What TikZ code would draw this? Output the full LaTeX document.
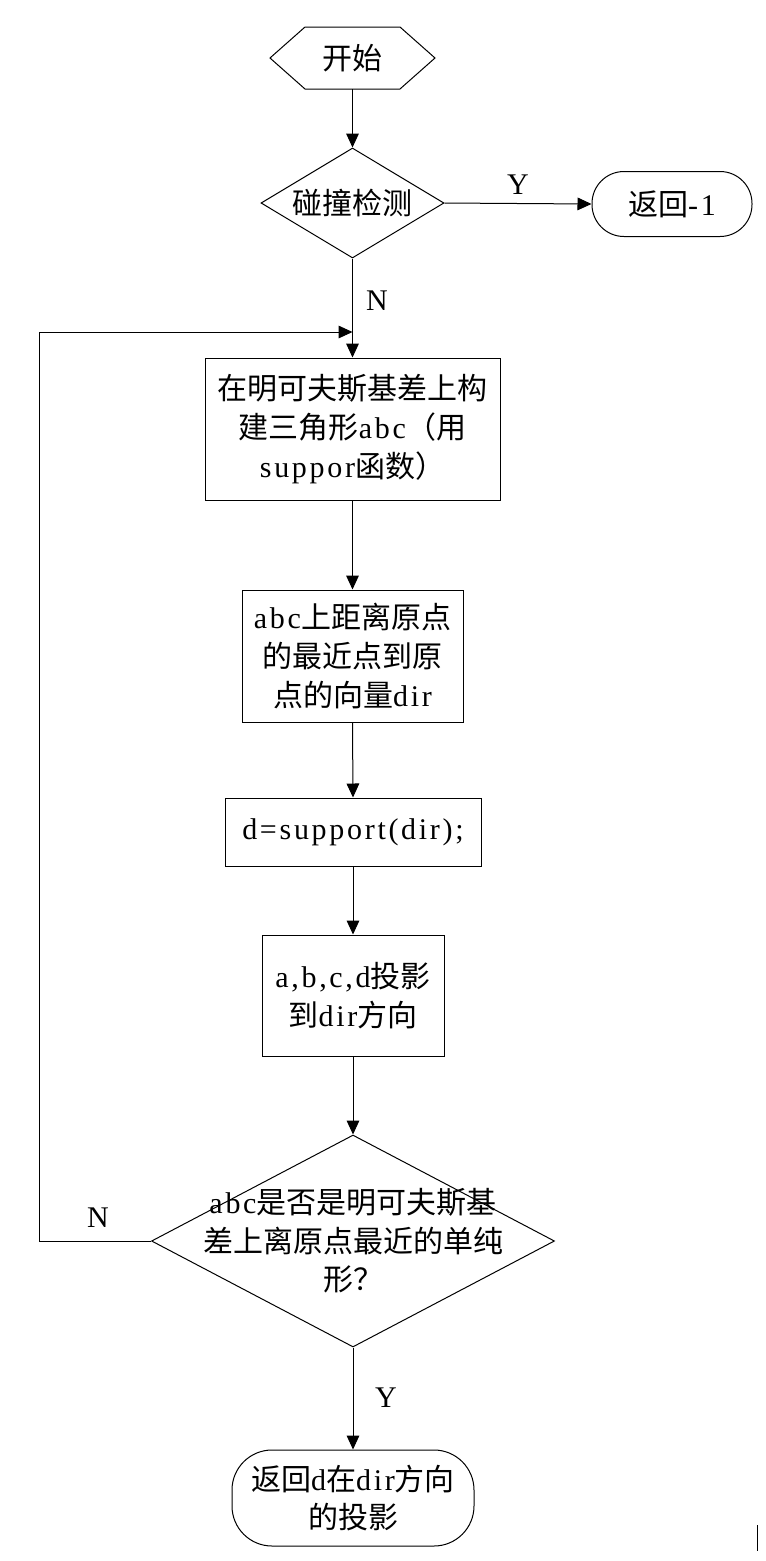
\documentclass[tikz,border=0pt]{standalone}
\usepackage{fontspec}
\setmainfont{Liberation Serif}
\newfontfamily\cjk{Noto Sans CJK SC}
\newfontfamily\latm[LetterSpace=9]{Liberation Serif}
\newcommand\lm[1]{{\latm #1}}
\usetikzlibrary{shapes.geometric,arrows.meta}
\tikzset{
  txt/.style={font=\cjk\fontsize{22.5}{29}\selectfont},
  lbl/.style={font=\rmfamily\fontsize{22.5}{29}\selectfont, inner sep=0pt},
  ln/.style={line width=0.75pt},
  box/.style={draw, ln, rectangle, inner sep=0pt, align=center, txt},
  dia/.style={draw, ln, diamond, inner sep=0pt},
  stad/.style={draw, ln, rectangle, inner sep=0pt, align=center, txt},
  arr/.style={ln, -{Triangle[length=10.5pt,width=9.5pt]}},
}
\begin{document}
\begin{tikzpicture}[x=0.75pt,y=-0.75pt]
\useasboundingbox (0,0) rectangle (766,1561);
\fill[white] (0,0) rectangle (766,1561);

% start hexagon
\draw[ln] (270,58) -- (305,27) -- (400,27) -- (435,58) -- (400,89) -- (305,89) -- cycle;
\node[txt, minimum width=123.75pt, minimum height=46.5pt, inner sep=0pt] (start) at (352.5,58) {开始};

% collision check
\node[dia, minimum width=137.25pt, minimum height=82.5pt] (d1) at (352.5,203) {};
\node[txt] at (d1) {碰撞检测};

\node[stad, rounded corners=24pt, minimum width=120pt, minimum height=48.75pt] (ret1) at (672,204) {返回\lm{-1}};

\node[box, minimum width=221.25pt, minimum height=106.5pt] (b1) at (352.5,429)
  {在明可夫斯基差上构\\建三角形\lm{abc}（用\\\lm{suppor}函数）};

\node[box, minimum width=165.75pt, minimum height=99pt] (b2) at (352.5,656)
  {\lm{abc}上距离原点\\的最近点到原\\点的向量\lm{dir}};

\node[box, minimum width=192pt, minimum height=51pt] (b3) at (353,832)
  {\lm{d=support(dir);}};

\node[box, minimum width=136.5pt, minimum height=90.75pt] (b4) at (353,995.5)
  {\lm{a,b,c,d}投影\\到\lm{dir}方向};

\node[dia, minimum width=302.25pt, minimum height=159pt] (d2) at (353,1241) {};
\node[txt, align=center] at (d2) {\lm{abc}是否是明可夫斯基\\差上离原点最近的单纯\\形？};

\node[stad, rounded corners=30pt, minimum width=181.5pt, minimum height=72pt] (end) at (353,1498)
  {返回\lm{d}在\lm{dir}方向\\的投影};

\coordinate (lp) at (352.5,332);

% connectors
\draw[arr] (start.south) -- (d1.north);
\draw[arr] (d1.east) -- (ret1.west);
\draw[arr] (d1.south) -- (b1.north);
\draw[arr] (b1.south) -- (b2.north);
\draw[arr] (b2.south) -- (b3.north);
\draw[arr] (b3.south) -- (b4.north);
\draw[arr] (b4.south) -- (d2.north);
\draw[arr] (d2.south) -- (end.north);
\draw[arr] (d2.west) -- ++(-112,0) |- (lp);

% labels
\node[lbl] (ly1) at (518,185) {Y};
\node[lbl] (ln1) at (377,301) {N};
\node[lbl] (ln2) at (98,1218) {N};
\node[lbl] (ly2) at (386,1398) {Y};

% small mark at bottom right
\draw[ln] (757,1525) -- (757,1551);
\end{tikzpicture}
\end{document}
